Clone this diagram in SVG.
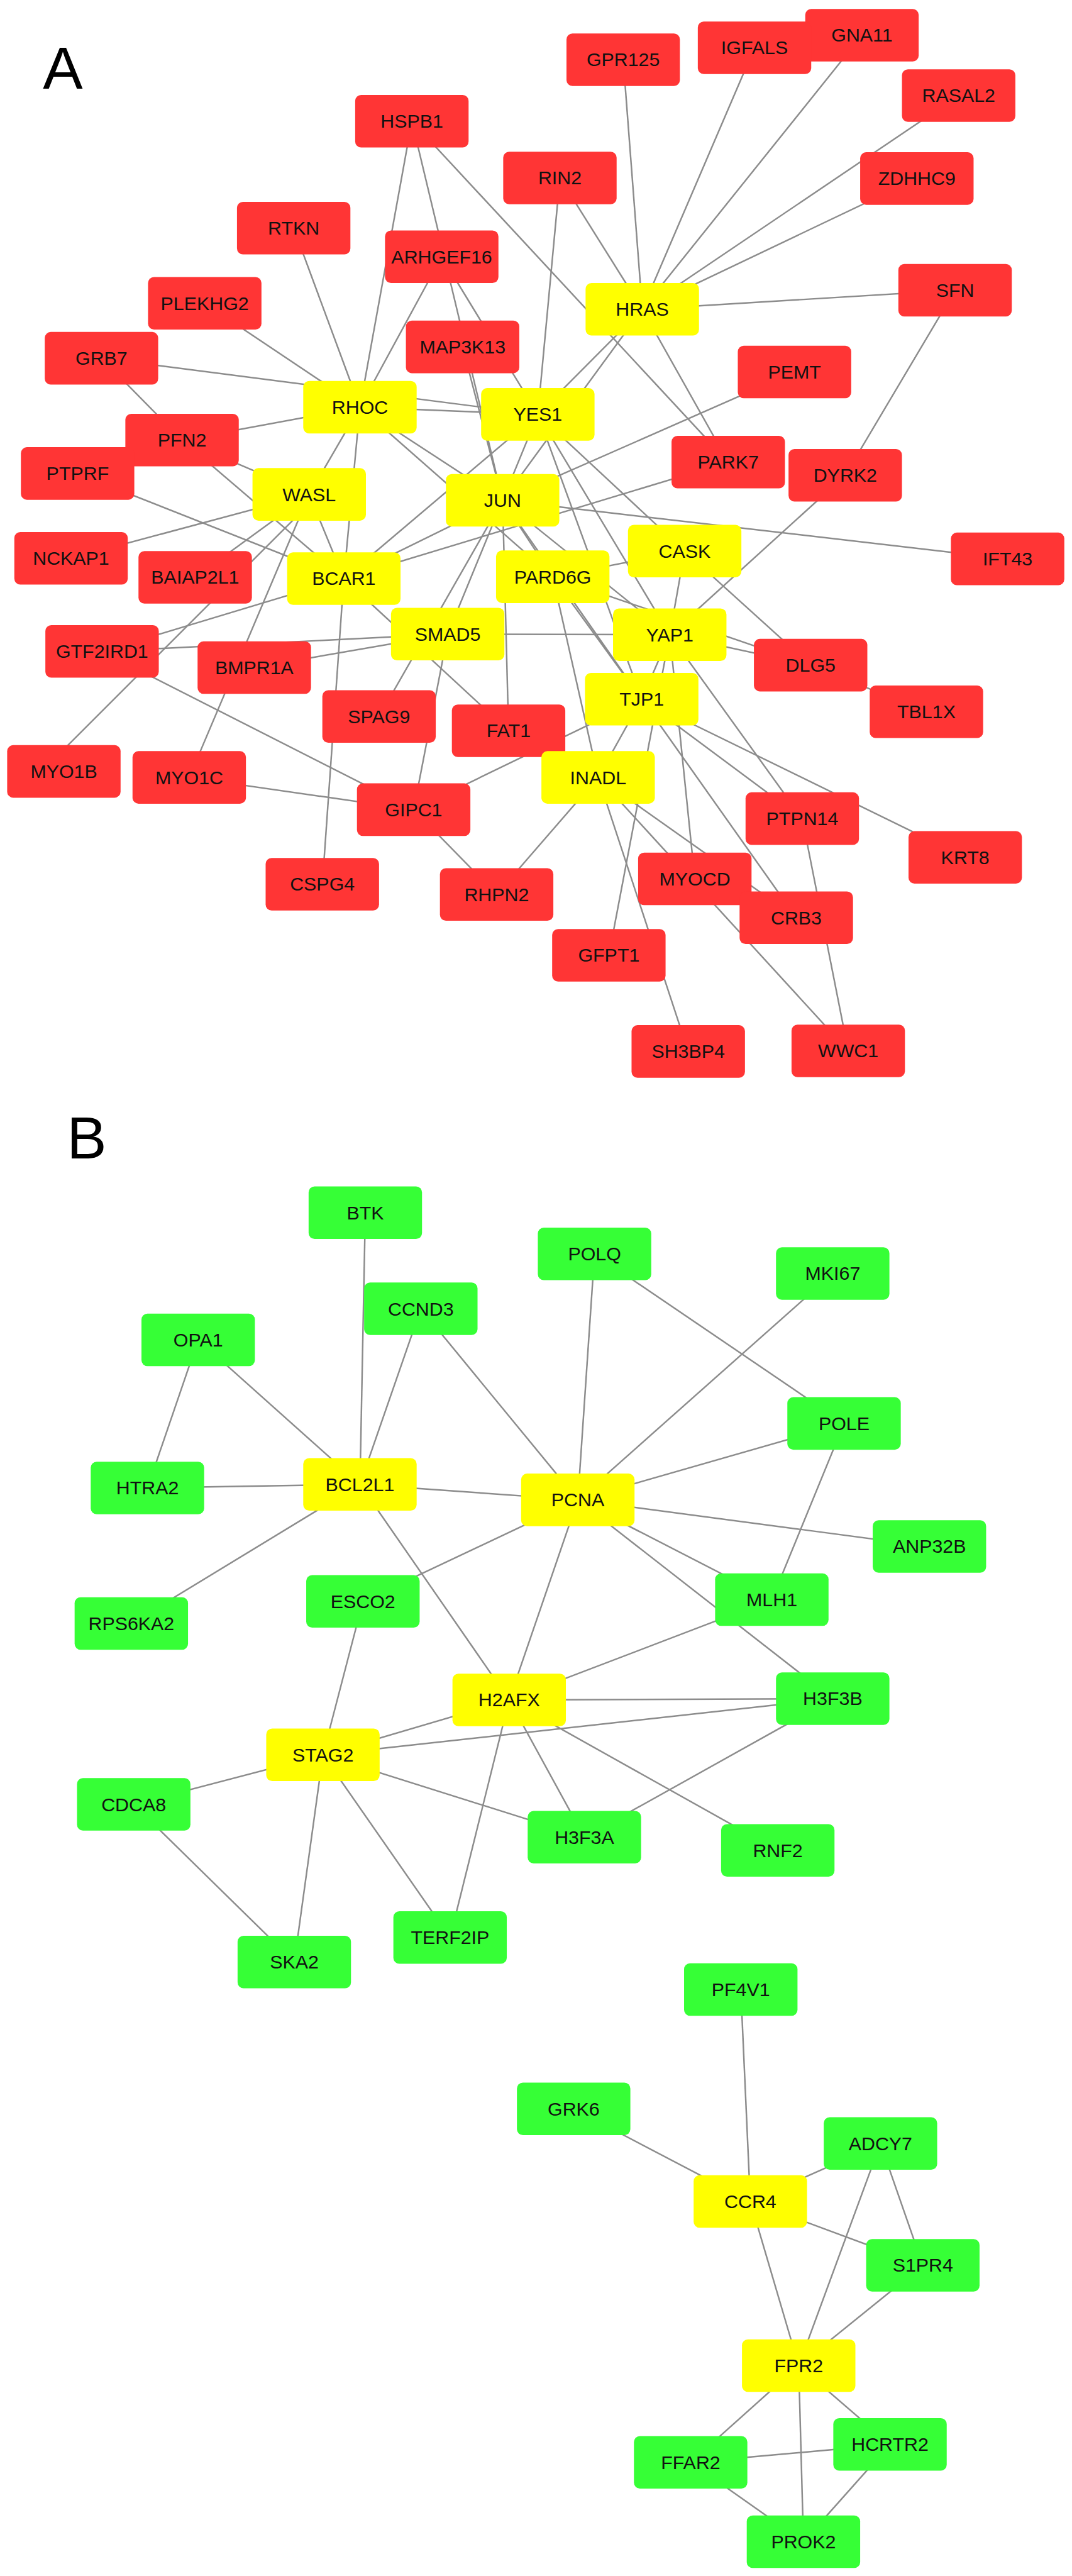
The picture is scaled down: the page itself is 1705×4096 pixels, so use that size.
<svg xmlns="http://www.w3.org/2000/svg" width="1705" height="4096" viewBox="0 0 1705 4096">
<style>
.e line{stroke:#8c8c8c;stroke-width:2.6}
rect{width:190px;height:88px}
.r rect{fill:#ff3535}
.y rect{fill:#ffff00}
.g rect{fill:#36ff36}
text{font-family:"Liberation Sans",Arial,sans-serif;font-size:32px;text-anchor:middle;fill:#111}
.lab{font-size:100px;text-anchor:start;fill:#000}
</style>
<rect x="0" y="0" width="1705" height="4096" style="fill:#fff;width:1705px;height:4096px"/>
<g transform="scale(0.9494)">
<text class="lab" x="72" y="149">A</text>
<text class="lab" x="112" y="1940">B</text>
<g id="connectors" class="e">
<line x1="690" y1="203" x2="603" y2="682"/>
<line x1="690" y1="203" x2="842" y2="838"/>
<line x1="690" y1="203" x2="1220" y2="774"/>
<line x1="740" y1="430" x2="603" y2="682"/>
<line x1="740" y1="430" x2="901" y2="694"/>
<line x1="775" y1="581" x2="842" y2="838"/>
<line x1="492" y1="382" x2="603" y2="682"/>
<line x1="343" y1="508" x2="603" y2="682"/>
<line x1="170" y1="600" x2="901" y2="694"/>
<line x1="170" y1="600" x2="305" y2="737"/>
<line x1="305" y1="737" x2="603" y2="682"/>
<line x1="305" y1="737" x2="518" y2="828"/>
<line x1="305" y1="737" x2="576" y2="969"/>
<line x1="130" y1="793" x2="576" y2="969"/>
<line x1="119" y1="935" x2="518" y2="828"/>
<line x1="327" y1="967" x2="518" y2="828"/>
<line x1="530" y1="832" x2="72" y2="1290"/>
<line x1="518" y1="828" x2="317" y2="1302"/>
<line x1="518" y1="828" x2="603" y2="682"/>
<line x1="518" y1="828" x2="576" y2="969"/>
<line x1="576" y1="969" x2="603" y2="682"/>
<line x1="171" y1="1091" x2="576" y2="969"/>
<line x1="171" y1="1091" x2="750" y2="1062"/>
<line x1="426" y1="1118" x2="750" y2="1062"/>
<line x1="171" y1="1091" x2="693" y2="1356"/>
<line x1="317" y1="1302" x2="693" y2="1356"/>
<line x1="576" y1="969" x2="540" y2="1481"/>
<line x1="635" y1="1200" x2="842" y2="838"/>
<line x1="750" y1="1062" x2="693" y2="1356"/>
<line x1="576" y1="969" x2="852" y2="1224"/>
<line x1="1075" y1="1171" x2="693" y2="1356"/>
<line x1="693" y1="1356" x2="832" y2="1498"/>
<line x1="832" y1="1498" x2="1002" y2="1302"/>
<line x1="842" y1="838" x2="852" y2="1224"/>
<line x1="842" y1="838" x2="1331" y2="623"/>
<line x1="576" y1="969" x2="1220" y2="774"/>
<line x1="576" y1="969" x2="842" y2="838"/>
<line x1="576" y1="969" x2="901" y2="694"/>
<line x1="603" y1="682" x2="901" y2="694"/>
<line x1="603" y1="682" x2="842" y2="838"/>
<line x1="603" y1="682" x2="926" y2="966"/>
<line x1="1076" y1="518" x2="901" y2="694"/>
<line x1="1076" y1="518" x2="842" y2="838"/>
<line x1="1076" y1="518" x2="1220" y2="774"/>
<line x1="938" y1="298" x2="901" y2="694"/>
<line x1="938" y1="298" x2="1076" y2="518"/>
<line x1="1044" y1="100" x2="1076" y2="518"/>
<line x1="1264" y1="80" x2="1076" y2="518"/>
<line x1="1444" y1="59" x2="1076" y2="518"/>
<line x1="1606" y1="160" x2="1076" y2="518"/>
<line x1="1536" y1="299" x2="1076" y2="518"/>
<line x1="1600" y1="486" x2="1076" y2="518"/>
<line x1="1600" y1="486" x2="1416" y2="796"/>
<line x1="1416" y1="796" x2="1122" y2="1063"/>
<line x1="842" y1="838" x2="1688" y2="936"/>
<line x1="926" y1="966" x2="1147" y2="923"/>
<line x1="1147" y1="923" x2="1122" y2="1063"/>
<line x1="1147" y1="923" x2="1358" y2="1114"/>
<line x1="1122" y1="1063" x2="1358" y2="1114"/>
<line x1="926" y1="966" x2="1358" y2="1114"/>
<line x1="1358" y1="1114" x2="1552" y2="1192"/>
<line x1="901" y1="694" x2="1075" y2="1171"/>
<line x1="901" y1="694" x2="1122" y2="1063"/>
<line x1="901" y1="694" x2="1147" y2="923"/>
<line x1="901" y1="694" x2="842" y2="838"/>
<line x1="842" y1="838" x2="1122" y2="1063"/>
<line x1="750" y1="1062" x2="1122" y2="1063"/>
<line x1="750" y1="1062" x2="842" y2="838"/>
<line x1="1075" y1="1171" x2="1002" y2="1302"/>
<line x1="1075" y1="1171" x2="1334" y2="1537"/>
<line x1="1122" y1="1063" x2="1164" y2="1472"/>
<line x1="1075" y1="1171" x2="1344" y2="1371"/>
<line x1="1075" y1="1171" x2="1617" y2="1436"/>
<line x1="1122" y1="1063" x2="1344" y2="1371"/>
<line x1="1002" y1="1302" x2="1153" y2="1761"/>
<line x1="1122" y1="1063" x2="1020" y2="1600"/>
<line x1="1002" y1="1302" x2="1334" y2="1537"/>
<line x1="1002" y1="1302" x2="1421" y2="1760"/>
<line x1="1344" y1="1371" x2="1421" y2="1760"/>
<line x1="1122" y1="1063" x2="1075" y2="1171"/>
<line x1="842" y1="838" x2="926" y2="966"/>
<line x1="926" y1="966" x2="1002" y2="1302"/>
<line x1="926" y1="966" x2="1075" y2="1171"/>
<line x1="842" y1="838" x2="1075" y2="1171"/>
<line x1="612" y1="2031" x2="603" y2="2486"/>
<line x1="332" y1="2244" x2="247" y2="2492"/>
<line x1="332" y1="2244" x2="603" y2="2486"/>
<line x1="705" y1="2192" x2="603" y2="2486"/>
<line x1="705" y1="2192" x2="968" y2="2512"/>
<line x1="247" y1="2492" x2="603" y2="2486"/>
<line x1="603" y1="2486" x2="968" y2="2512"/>
<line x1="603" y1="2486" x2="220" y2="2719"/>
<line x1="603" y1="2486" x2="853" y2="2847"/>
<line x1="996" y1="2100" x2="968" y2="2512"/>
<line x1="996" y1="2100" x2="1414" y2="2384"/>
<line x1="1395" y1="2133" x2="968" y2="2512"/>
<line x1="1414" y1="2384" x2="968" y2="2512"/>
<line x1="1414" y1="2384" x2="1293" y2="2679"/>
<line x1="968" y1="2512" x2="1557" y2="2590"/>
<line x1="968" y1="2512" x2="1293" y2="2679"/>
<line x1="968" y1="2512" x2="1395" y2="2845"/>
<line x1="608" y1="2682" x2="968" y2="2512"/>
<line x1="608" y1="2682" x2="541" y2="2939"/>
<line x1="968" y1="2512" x2="853" y2="2847"/>
<line x1="853" y1="2847" x2="1293" y2="2679"/>
<line x1="853" y1="2847" x2="1395" y2="2845"/>
<line x1="853" y1="2847" x2="979" y2="3077"/>
<line x1="853" y1="2847" x2="1303" y2="3099"/>
<line x1="853" y1="2847" x2="754" y2="3245"/>
<line x1="853" y1="2847" x2="541" y2="2939"/>
<line x1="541" y1="2939" x2="1395" y2="2845"/>
<line x1="541" y1="2939" x2="979" y2="3077"/>
<line x1="541" y1="2939" x2="224" y2="3022"/>
<line x1="541" y1="2939" x2="493" y2="3286"/>
<line x1="541" y1="2939" x2="754" y2="3245"/>
<line x1="224" y1="3022" x2="493" y2="3286"/>
<line x1="979" y1="3077" x2="1395" y2="2845"/>
<line x1="1241" y1="3332" x2="1257" y2="3687"/>
<line x1="961" y1="3532" x2="1257" y2="3687"/>
<line x1="1257" y1="3687" x2="1475" y2="3590"/>
<line x1="1257" y1="3687" x2="1546" y2="3794"/>
<line x1="1257" y1="3687" x2="1338" y2="3962"/>
<line x1="1475" y1="3590" x2="1338" y2="3962"/>
<line x1="1475" y1="3590" x2="1546" y2="3794"/>
<line x1="1546" y1="3794" x2="1338" y2="3962"/>
<line x1="1338" y1="3962" x2="1157" y2="4124"/>
<line x1="1338" y1="3962" x2="1346" y2="4257"/>
<line x1="1338" y1="3962" x2="1491" y2="4094"/>
<line x1="1157" y1="4124" x2="1491" y2="4094"/>
<line x1="1157" y1="4124" x2="1346" y2="4257"/>
<line x1="1491" y1="4094" x2="1346" y2="4257"/>
</g>
<g id="nodes-A">
<g id="HSPB1" class="r"><rect x="595" y="159" rx="10"/><text x="690" y="214">HSPB1</text></g>
<g id="RTKN" class="r"><rect x="397" y="338" rx="10"/><text x="492" y="393">RTKN</text></g>
<g id="ARHGEF16" class="r"><rect x="645" y="386" rx="10"/><text x="740" y="441">ARHGEF16</text></g>
<g id="PLEKHG2" class="r"><rect x="248" y="464" rx="10"/><text x="343" y="519">PLEKHG2</text></g>
<g id="MAP3K13" class="r"><rect x="680" y="537" rx="10"/><text x="775" y="592">MAP3K13</text></g>
<g id="GRB7" class="r"><rect x="75" y="556" rx="10"/><text x="170" y="611">GRB7</text></g>
<g id="RIN2" class="r"><rect x="843" y="254" rx="10"/><text x="938" y="309">RIN2</text></g>
<g id="GPR125" class="r"><rect x="949" y="56" rx="10"/><text x="1044" y="111">GPR125</text></g>
<g id="GNA11" class="r"><rect x="1349" y="15" rx="10"/><text x="1444" y="70">GNA11</text></g>
<g id="IGFALS" class="r"><rect x="1169" y="36" rx="10"/><text x="1264" y="91">IGFALS</text></g>
<g id="RASAL2" class="r"><rect x="1511" y="116" rx="10"/><text x="1606" y="171">RASAL2</text></g>
<g id="ZDHHC9" class="r"><rect x="1441" y="255" rx="10"/><text x="1536" y="310">ZDHHC9</text></g>
<g id="SFN" class="r"><rect x="1505" y="442" rx="10"/><text x="1600" y="497">SFN</text></g>
<g id="PEMT" class="r"><rect x="1236" y="579" rx="10"/><text x="1331" y="634">PEMT</text></g>
<g id="PARK7" class="r"><rect x="1125" y="730" rx="10"/><text x="1220" y="785">PARK7</text></g>
<g id="DYRK2" class="r"><rect x="1321" y="752" rx="10"/><text x="1416" y="807">DYRK2</text></g>
<g id="IFT43" class="r"><rect x="1593" y="892" rx="10"/><text x="1688" y="947">IFT43</text></g>
<g id="DLG5" class="r"><rect x="1263" y="1070" rx="10"/><text x="1358" y="1125">DLG5</text></g>
<g id="TBL1X" class="r"><rect x="1457" y="1148" rx="10"/><text x="1552" y="1203">TBL1X</text></g>
<g id="PFN2" class="r"><rect x="210" y="693" rx="10"/><text x="305" y="748">PFN2</text></g>
<g id="PTPRF" class="r"><rect x="35" y="749" rx="10"/><text x="130" y="804">PTPRF</text></g>
<g id="NCKAP1" class="r"><rect x="24" y="891" rx="10"/><text x="119" y="946">NCKAP1</text></g>
<g id="BAIAP2L1" class="r"><rect x="232" y="923" rx="10"/><text x="327" y="978">BAIAP2L1</text></g>
<g id="GTF2IRD1" class="r"><rect x="76" y="1047" rx="10"/><text x="171" y="1102">GTF2IRD1</text></g>
<g id="BMPR1A" class="r"><rect x="331" y="1074" rx="10"/><text x="426" y="1129">BMPR1A</text></g>
<g id="SPAG9" class="r"><rect x="540" y="1156" rx="10"/><text x="635" y="1211">SPAG9</text></g>
<g id="FAT1" class="r"><rect x="757" y="1180" rx="10"/><text x="852" y="1235">FAT1</text></g>
<g id="MYO1B" class="r"><rect x="12" y="1248" rx="10"/><text x="107" y="1303">MYO1B</text></g>
<g id="MYO1C" class="r"><rect x="222" y="1258" rx="10"/><text x="317" y="1313">MYO1C</text></g>
<g id="GIPC1" class="r"><rect x="598" y="1312" rx="10"/><text x="693" y="1367">GIPC1</text></g>
<g id="CSPG4" class="r"><rect x="445" y="1437" rx="10"/><text x="540" y="1492">CSPG4</text></g>
<g id="RHPN2" class="r"><rect x="737" y="1454" rx="10"/><text x="832" y="1509">RHPN2</text></g>
<g id="PTPN14" class="r"><rect x="1249" y="1327" rx="10"/><text x="1344" y="1382">PTPN14</text></g>
<g id="KRT8" class="r"><rect x="1522" y="1392" rx="10"/><text x="1617" y="1447">KRT8</text></g>
<g id="MYOCD" class="r"><rect x="1069" y="1428" rx="10"/><text x="1164" y="1483">MYOCD</text></g>
<g id="CRB3" class="r"><rect x="1239" y="1493" rx="10"/><text x="1334" y="1548">CRB3</text></g>
<g id="GFPT1" class="r"><rect x="925" y="1556" rx="10"/><text x="1020" y="1611">GFPT1</text></g>
<g id="SH3BP4" class="r"><rect x="1058" y="1717" rx="10"/><text x="1153" y="1772">SH3BP4</text></g>
<g id="WWC1" class="r"><rect x="1326" y="1716" rx="10"/><text x="1421" y="1771">WWC1</text></g>
<g id="HRAS" class="y"><rect x="981" y="474" rx="10"/><text x="1076" y="529">HRAS</text></g>
<g id="RHOC" class="y"><rect x="508" y="638" rx="10"/><text x="603" y="693">RHOC</text></g>
<g id="YES1" class="y"><rect x="806" y="650" rx="10"/><text x="901" y="705">YES1</text></g>
<g id="JUN" class="y"><rect x="747" y="794" rx="10"/><text x="842" y="849">JUN</text></g>
<g id="WASL" class="y"><rect x="423" y="784" rx="10"/><text x="518" y="839">WASL</text></g>
<g id="BCAR1" class="y"><rect x="481" y="925" rx="10"/><text x="576" y="980">BCAR1</text></g>
<g id="PARD6G" class="y"><rect x="831" y="922" rx="10"/><text x="926" y="977">PARD6G</text></g>
<g id="SMAD5" class="y"><rect x="655" y="1018" rx="10"/><text x="750" y="1073">SMAD5</text></g>
<g id="CASK" class="y"><rect x="1052" y="879" rx="10"/><text x="1147" y="934">CASK</text></g>
<g id="YAP1" class="y"><rect x="1027" y="1019" rx="10"/><text x="1122" y="1074">YAP1</text></g>
<g id="TJP1" class="y"><rect x="980" y="1127" rx="10"/><text x="1075" y="1182">TJP1</text></g>
<g id="INADL" class="y"><rect x="907" y="1258" rx="10"/><text x="1002" y="1313">INADL</text></g>
</g>
<g id="nodes-B">
<g id="BTK" class="g"><rect x="517" y="1987" rx="10"/><text x="612" y="2042">BTK</text></g>
<g id="CCND3" class="g"><rect x="610" y="2148" rx="10"/><text x="705" y="2203">CCND3</text></g>
<g id="OPA1" class="g"><rect x="237" y="2200" rx="10"/><text x="332" y="2255">OPA1</text></g>
<g id="HTRA2" class="g"><rect x="152" y="2448" rx="10"/><text x="247" y="2503">HTRA2</text></g>
<g id="BCL2L1" class="y"><rect x="508" y="2442" rx="10"/><text x="603" y="2497">BCL2L1</text></g>
<g id="PCNA" class="y"><rect x="873" y="2468" rx="10"/><text x="968" y="2523">PCNA</text></g>
<g id="POLQ" class="g"><rect x="901" y="2056" rx="10"/><text x="996" y="2111">POLQ</text></g>
<g id="MKI67" class="g"><rect x="1300" y="2089" rx="10"/><text x="1395" y="2144">MKI67</text></g>
<g id="POLE" class="g"><rect x="1319" y="2340" rx="10"/><text x="1414" y="2395">POLE</text></g>
<g id="ANP32B" class="g"><rect x="1462" y="2546" rx="10"/><text x="1557" y="2601">ANP32B</text></g>
<g id="MLH1" class="g"><rect x="1198" y="2635" rx="10"/><text x="1293" y="2690">MLH1</text></g>
<g id="H3F3B" class="g"><rect x="1300" y="2801" rx="10"/><text x="1395" y="2856">H3F3B</text></g>
<g id="RPS6KA2" class="g"><rect x="125" y="2675" rx="10"/><text x="220" y="2730">RPS6KA2</text></g>
<g id="ESCO2" class="g"><rect x="513" y="2638" rx="10"/><text x="608" y="2693">ESCO2</text></g>
<g id="H2AFX" class="y"><rect x="758" y="2803" rx="10"/><text x="853" y="2858">H2AFX</text></g>
<g id="STAG2" class="y"><rect x="446" y="2895" rx="10"/><text x="541" y="2950">STAG2</text></g>
<g id="CDCA8" class="g"><rect x="129" y="2978" rx="10"/><text x="224" y="3033">CDCA8</text></g>
<g id="H3F3A" class="g"><rect x="884" y="3033" rx="10"/><text x="979" y="3088">H3F3A</text></g>
<g id="RNF2" class="g"><rect x="1208" y="3055" rx="10"/><text x="1303" y="3110">RNF2</text></g>
<g id="TERF2IP" class="g"><rect x="659" y="3201" rx="10"/><text x="754" y="3256">TERF2IP</text></g>
<g id="SKA2" class="g"><rect x="398" y="3242" rx="10"/><text x="493" y="3297">SKA2</text></g>
</g>
<g id="nodes-C">
<g id="PF4V1" class="g"><rect x="1146" y="3288" rx="10"/><text x="1241" y="3343">PF4V1</text></g>
<g id="GRK6" class="g"><rect x="866" y="3488" rx="10"/><text x="961" y="3543">GRK6</text></g>
<g id="ADCY7" class="g"><rect x="1380" y="3546" rx="10"/><text x="1475" y="3601">ADCY7</text></g>
<g id="CCR4" class="y"><rect x="1162" y="3643" rx="10"/><text x="1257" y="3698">CCR4</text></g>
<g id="S1PR4" class="g"><rect x="1451" y="3750" rx="10"/><text x="1546" y="3805">S1PR4</text></g>
<g id="FPR2" class="y"><rect x="1243" y="3918" rx="10"/><text x="1338" y="3973">FPR2</text></g>
<g id="FFAR2" class="g"><rect x="1062" y="4080" rx="10"/><text x="1157" y="4135">FFAR2</text></g>
<g id="HCRTR2" class="g"><rect x="1396" y="4050" rx="10"/><text x="1491" y="4105">HCRTR2</text></g>
<g id="PROK2" class="g"><rect x="1251" y="4213" rx="10"/><text x="1346" y="4268">PROK2</text></g>
</g>
</g>
</svg>
